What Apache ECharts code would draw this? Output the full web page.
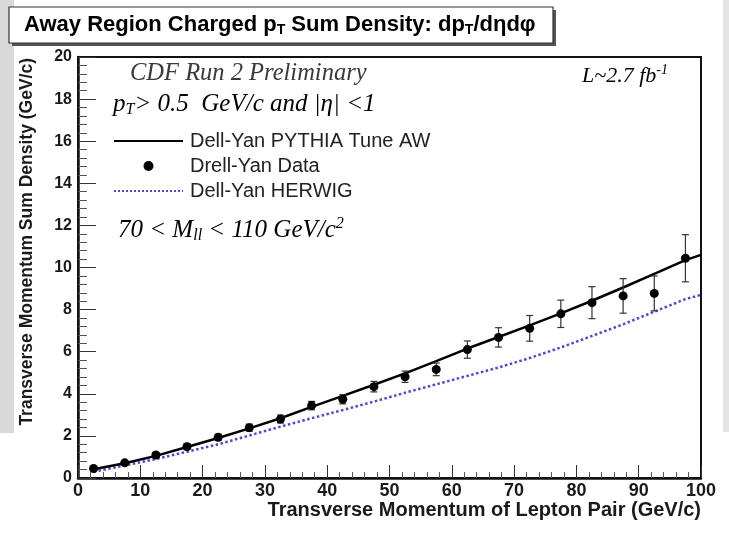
<!DOCTYPE html>
<html><head><meta charset="utf-8">
<script src="https://cdn.jsdelivr.net/npm/echarts@6/dist/echarts.min.js"></script>
<style>html,body{margin:0;padding:0;background:#fff}#c{width:729px;height:540px}</style>
</head><body><div id="c"></div>
<script>
// ---- data ----
const binCenters = [2.5,7.5,12.5,17.5,22.5,27.5,32.5,37.5,42.5,47.5,52.5,57.5,62.5,67.5,72.5,77.5,82.5,87.5,92.5,97.5];
const dataValues = [0.45,0.72,1.09,1.49,1.93,2.39,2.80,3.44,3.74,4.34,4.81,5.16,6.10,6.68,7.11,7.80,8.33,8.65,8.77,10.44];
const dataErrors = [0.08,0.1,0.12,0.14,0.15,0.17,0.19,0.2,0.22,0.25,0.27,0.3,0.41,0.46,0.61,0.65,0.76,0.82,0.83,1.12];
const curveX = [2.5,7.5,12.5,17.5,22.5,27.5,32.5,37.5,42.5,47.5,52.5,57.5,62.5,67.5,72.5,77.5,82.5,87.5,92.5,97.5,100];
const pythiaValues = [0.42,0.70,1.05,1.47,1.90,2.36,2.84,3.38,3.90,4.43,4.97,5.55,6.15,6.70,7.25,7.82,8.42,9.05,9.70,10.35,10.60];
const herwigValues = [0.30,0.60,0.90,1.25,1.60,2.02,2.44,2.84,3.23,3.63,4.05,4.45,4.85,5.25,5.70,6.20,6.75,7.30,7.90,8.50,8.70];
const xTicks = {min:0, max:100, step:10};
const yTicks = {min:0, max:20, step:2};
const seriesNames = ['Dell-Yan PYTHIA Tune AW','Drell-Yan Data','Dell-Yan HERWIG'];

const SANS = '"Liberation Sans", Arial, sans-serif';
const SERIF = '"Liberation Serif", "Times New Roman", serif';

const chart = echarts.init(document.getElementById('c'), null, {renderer:'canvas'});

const italicRich = function(size){
  return {
    a:{fontFamily:SERIF, fontStyle:'italic', fontSize:size, color:'#3a3a3a'},
    s:{fontFamily:SERIF, fontStyle:'italic', fontSize:Math.round(size*0.62), color:'#3a3a3a', padding:[12,0,0,0]},
    u:{fontFamily:SERIF, fontStyle:'italic', fontSize:Math.round(size*0.62), color:'#3a3a3a', padding:[0,0,12,0]}
  };
};

const option = {
  backgroundColor:'#ffffff',
  animation:false,
  grid:{left:78, right:28, top:57, bottom:62, show:true, borderColor:'#111', borderWidth:2, backgroundColor:'transparent'},
  xAxis:{
    type:'value', min:xTicks.min, max:xTicks.max, interval:xTicks.step,
    axisLine:{show:true, onZero:false, lineStyle:{color:'#111', width:2.5}},
    axisTick:{show:true, inside:true, length:13, lineStyle:{color:'#333', width:1}},
    minorTick:{show:true, splitNumber:5, length:6, lineStyle:{color:'#555', width:1}},
    splitLine:{show:false},
    axisLabel:{fontFamily:SANS, fontWeight:'bold', fontSize:18, color:'#1a1a1a', margin:4}
  },
  yAxis:{
    type:'value', min:yTicks.min, max:yTicks.max, interval:yTicks.step,
    axisLine:{show:true, onZero:false, lineStyle:{color:'#111', width:2.5}},
    axisTick:{show:true, inside:true, length:18, lineStyle:{color:'#333', width:1}},
    minorTick:{show:true, splitNumber:5, length:9, lineStyle:{color:'#555', width:1}},
    splitLine:{show:false},
    axisLabel:{fontFamily:SANS, fontWeight:'bold', fontSize:16, color:'#1a1a1a', margin:6}
  },
  legend:{
    data:[
      {name:seriesNames[0], itemStyle:{opacity:0}},
      {name:seriesNames[1]},
      {name:seriesNames[2], itemStyle:{opacity:0}}
    ],
    orient:'vertical', left:108, top:126, itemWidth:69, itemHeight:10, itemGap:5,
    textStyle:{fontFamily:SANS, fontSize:20, color:'#222', padding:[0,0,0,2]},
    selectedMode:false
  },
  series:[
    {name:seriesNames[0], type:'line', symbol:'none', z:3,
     data:curveX.map((x,i)=>[x, pythiaValues[i]]),
     lineStyle:{color:'#000', width:2.5}, itemStyle:{color:'#000'}},
    {name:seriesNames[1], type:'scatter', symbol:'circle', symbolSize:9, z:5,
     data:binCenters.map((x,i)=>[x, dataValues[i]]),
     itemStyle:{color:'#000', opacity:1}},
    {name:seriesNames[2], type:'line', symbol:'none', z:2,
     data:curveX.map((x,i)=>[x, herwigValues[i]]),
     lineStyle:{color:'#4a4ad0', width:2.5, type:'dotted'}, itemStyle:{color:'#4a4ad0'}},
    {name:'errors', type:'custom', z:4,
     data:binCenters.map((x,i)=>[x, dataValues[i], dataErrors[i]]),
     renderItem:function(params, api){
       const x = api.value(0), y = api.value(1), e = api.value(2);
       const hi = api.coord([x, y+e]), lo = api.coord([x, y-e]);
       const c = 3.5;
       const st = {stroke:'#333', lineWidth:1.2};
       return {type:'group', children:[
         {type:'line', shape:{x1:hi[0], y1:hi[1], x2:lo[0], y2:lo[1]}, style:st},
         {type:'line', shape:{x1:hi[0]-c, y1:hi[1], x2:hi[0]+c, y2:hi[1]}, style:st},
         {type:'line', shape:{x1:lo[0]-c, y1:lo[1], x2:lo[0]+c, y2:lo[1]}, style:st}
       ]};
     }}
  ],
  graphic:[
    {type:'rect', z:-5, shape:{x:0, y:0, width:14, height:433}, style:{fill:'#d9d9d9'}},
    {type:'rect', z:-5, shape:{x:723, y:0, width:6, height:432}, style:{fill:'#e4e4e4'}},
    {type:'rect', z:1, shape:{x:12, y:10, width:544, height:36}, style:{fill:'#555'}},
    {type:'rect', z:2, shape:{x:9, y:7, width:544, height:36}, style:{fill:'#fff', stroke:'#333', lineWidth:1.2}},
    {type:'text', z:3, x:24, y:25, style:{
      text:'{b|Away Region Charged p}{bs|T}{b| Sum Density: dp}{bs|T}{b|/dηdφ}',
      verticalAlign:'middle', align:'left',
      rich:{
        b:{fontFamily:SANS, fontWeight:'bold', fontSize:22, color:'#1a1a1a'},
        bs:{fontFamily:SANS, fontWeight:'bold', fontSize:14, color:'#1a1a1a', padding:[10,0,0,0]}
      }}},
    {type:'text', z:10, x:27, y:58, rotation:Math.PI/2, style:{
      text:'Transverse Momentum Sum Density (GeV/c)', align:'right', verticalAlign:'middle',
      fontFamily:SANS, fontWeight:'bold', fontSize:17.5, fill:'#1a1a1a'}},
    {type:'text', z:10, x:701, y:510, style:{
      text:'Transverse Momentum of Lepton Pair (GeV/c)', align:'right', verticalAlign:'middle',
      fontFamily:SANS, fontWeight:'bold', fontSize:20, fill:'#1a1a1a'}},
    {type:'text', z:10, x:130, y:74, style:{
      text:'CDF Run 2 Preliminary', align:'left', verticalAlign:'middle',
      fontFamily:SERIF, fontStyle:'italic', fontSize:24.5, fill:'#3a3a3a'}},
    {type:'text', z:10, x:113, y:104, style:{
      text:'{a|p}{s|T}{a|> 0.5  GeV/c and |η| <1}', align:'left', verticalAlign:'middle',
      rich:italicRich(25)}},
    {type:'text', z:10, x:582, y:76, style:{
      text:'{a|L~2.7 fb}{u|-1}', align:'left', verticalAlign:'middle',
      rich:italicRich(22)}},
    {type:'text', z:10, x:118, y:230, style:{
      text:'{a|70 < M}{s|ll}{a| < 110 GeV/c}{u|2}', align:'left', verticalAlign:'middle',
      rich:italicRich(25)}}
  ]
};
chart.setOption(option);
</script>
</body></html>
